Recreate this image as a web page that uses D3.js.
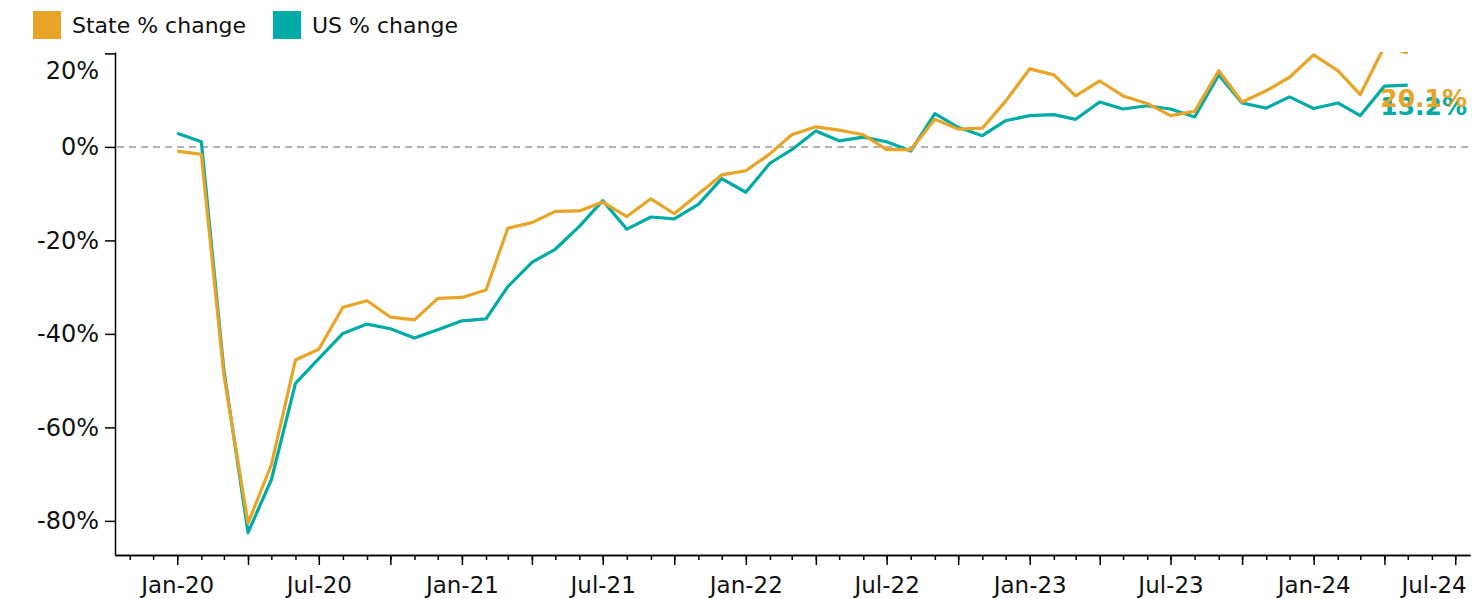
<!DOCTYPE html>
<html><head><meta charset="utf-8">
<script src="https://cdn.jsdelivr.net/npm/d3@7"></script>
<style>
body{margin:0;background:#fff;}
text{font-family:"DejaVu Sans",Verdana,sans-serif;}
</style>
</head><body>
<svg id="chart" width="1472" height="599"></svg>
<script>
// ---- data ----
const months = ["2020-01","2020-02","2020-03","2020-04","2020-05","2020-06","2020-07","2020-08","2020-09","2020-10","2020-11","2020-12",
"2021-01","2021-02","2021-03","2021-04","2021-05","2021-06","2021-07","2021-08","2021-09","2021-10","2021-11","2021-12",
"2022-01","2022-02","2022-03","2022-04","2022-05","2022-06","2022-07","2022-08","2022-09","2022-10","2022-11","2022-12",
"2023-01","2023-02","2023-03","2023-04","2023-05","2023-06","2023-07","2023-08","2023-09","2023-10","2023-11","2023-12",
"2024-01","2024-02","2024-03","2024-04","2024-05"];
const stateChange = [-0.9,-1.6,-48.8,-80.5,-68.0,-45.6,-43.3,-34.3,-32.9,-36.4,-37.0,-32.4,
-32.2,-30.6,-17.4,-16.2,-13.8,-13.7,-11.8,-14.9,-11.1,-14.3,-10.1,-6.0,
-5.1,-1.5,2.6,4.3,3.6,2.6,-0.6,-0.6,5.9,3.8,4.0,9.8,
16.7,15.4,10.9,14.1,10.9,9.3,6.7,7.6,16.3,9.6,12.0,14.9,
19.7,16.3,11.2,21.5,20.1];
const usChange = [2.9,1.1,-47.8,-82.5,-71.2,-50.6,-45.3,-39.9,-37.9,-38.9,-40.9,-39.1,
-37.2,-36.8,-29.9,-24.7,-21.9,-17.0,-11.5,-17.6,-15.0,-15.4,-12.3,-6.8,
-9.7,-3.5,-0.6,3.4,1.3,2.1,1.1,-0.9,7.1,4.2,2.4,5.6,
6.7,6.9,5.9,9.6,8.1,8.8,8.1,6.4,15.4,9.4,8.3,10.7,
8.2,9.4,6.7,13.0,13.2];
const seriesNames = ["State % change","US % change"];
const endLabels = ["20.1%","13.2%"];
const yTicks = [20,0,-20,-40,-60,-80];

// ---- styles ----
const colState = "#E8A426", colUS = "#00ABA6";
const FONT = "DejaVu Sans, Verdana, sans-serif";

const svg = d3.select("#chart");
const parse = d3.utcParse("%Y-%m");
const dates = months.map(parse);

const x = d3.scaleUtc()
  .domain([new Date(Date.UTC(2019,9,13)), new Date(Date.UTC(2024,6,20))])
  .range([115,1470]);
const y = d3.scaleLinear().domain([-87.3,20.3]).range([555,52]);

// clip
svg.append("defs").append("clipPath").attr("id","plot")
  .append("rect").attr("x",115).attr("y",52).attr("width",1470-115).attr("height",555-52);

// zero line
svg.append("line")
  .attr("x1",117).attr("x2",1470).attr("y1",y(0)).attr("y2",y(0))
  .attr("stroke","#b3b3b3").attr("stroke-width",2).attr("stroke-dasharray","7,5");

// y axis
const gy = svg.append("g").attr("transform","translate(115,0)")
  .call(d3.axisLeft(y).tickValues(yTicks).tickSize(10).tickPadding(6).tickSizeOuter(0).tickFormat(d=>d+"%"));
gy.selectAll("text").attr("font-size",24).attr("fill","#111").style("font-family",FONT);
gy.selectAll(".tick").filter(d=>d===20).select("text").attr("transform","translate(0,17)");

// x axis (minor monthly ticks + quarter ticks + labels)
svg.append("g").attr("transform","translate(0,555)")
  .call(d3.axisBottom(x).ticks(d3.utcMonth.every(1)).tickSize(5).tickFormat("").tickSizeOuter(0));
const fmt = d3.utcFormat("%b-%y");
const gx = svg.append("g").attr("transform","translate(0,555)")
  .call(d3.axisBottom(x).ticks(d3.utcMonth.every(3)).tickSize(10).tickPadding(12).tickSizeOuter(0)
    .tickFormat(d => d.getUTCMonth()%6===0 ? fmt(d) : ""));
gx.selectAll("text").attr("font-size",23).attr("fill","#111").style("font-family",FONT);
// keep the last label inside the plot width
const xTickNodes = gx.selectAll(".tick").filter(function(){ return d3.select(this).select("text").text() !== ""; });
const lastTick = xTickNodes.nodes()[xTickNodes.size()-1];
d3.select(lastTick).select("text").attr("text-anchor","end").attr("x",11);
svg.selectAll("g path.domain, g .tick line").attr("stroke","#000").attr("stroke-width",1.5);

// lines
const line = d3.line().x((d,i)=>x(dates[i])).y(d=>y(d));
const plot = svg.append("g").attr("clip-path","url(#plot)");
plot.append("path").datum(usChange).attr("d",line).attr("fill","none")
  .attr("stroke",colUS).attr("stroke-width",3.2).attr("stroke-linejoin","round");
plot.append("path").datum(stateChange).attr("d",line).attr("fill","none")
  .attr("stroke",colState).attr("stroke-width",3.2).attr("stroke-linejoin","round");

// end labels
svg.append("text").attr("x",1467).attr("y",115).attr("text-anchor","end")
  .attr("font-size",25).attr("font-weight","bold").attr("fill",colUS).text(endLabels[1]);
svg.append("text").attr("x",1467).attr("y",107).attr("text-anchor","end")
  .attr("font-size",25).attr("font-weight","bold").attr("fill",colState).text(endLabels[0]);

// legend
const legend = svg.append("g");
const legX = [33,273];
[colState,colUS].forEach((c,i)=>{
  legend.append("rect").attr("x",legX[i]).attr("y",11).attr("width",28).attr("height",28).attr("fill",c);
  legend.append("text").attr("x",legX[i]+39).attr("y",33).attr("font-size",22).attr("fill","#111").text(seriesNames[i]);
});
</script>
</body></html>
